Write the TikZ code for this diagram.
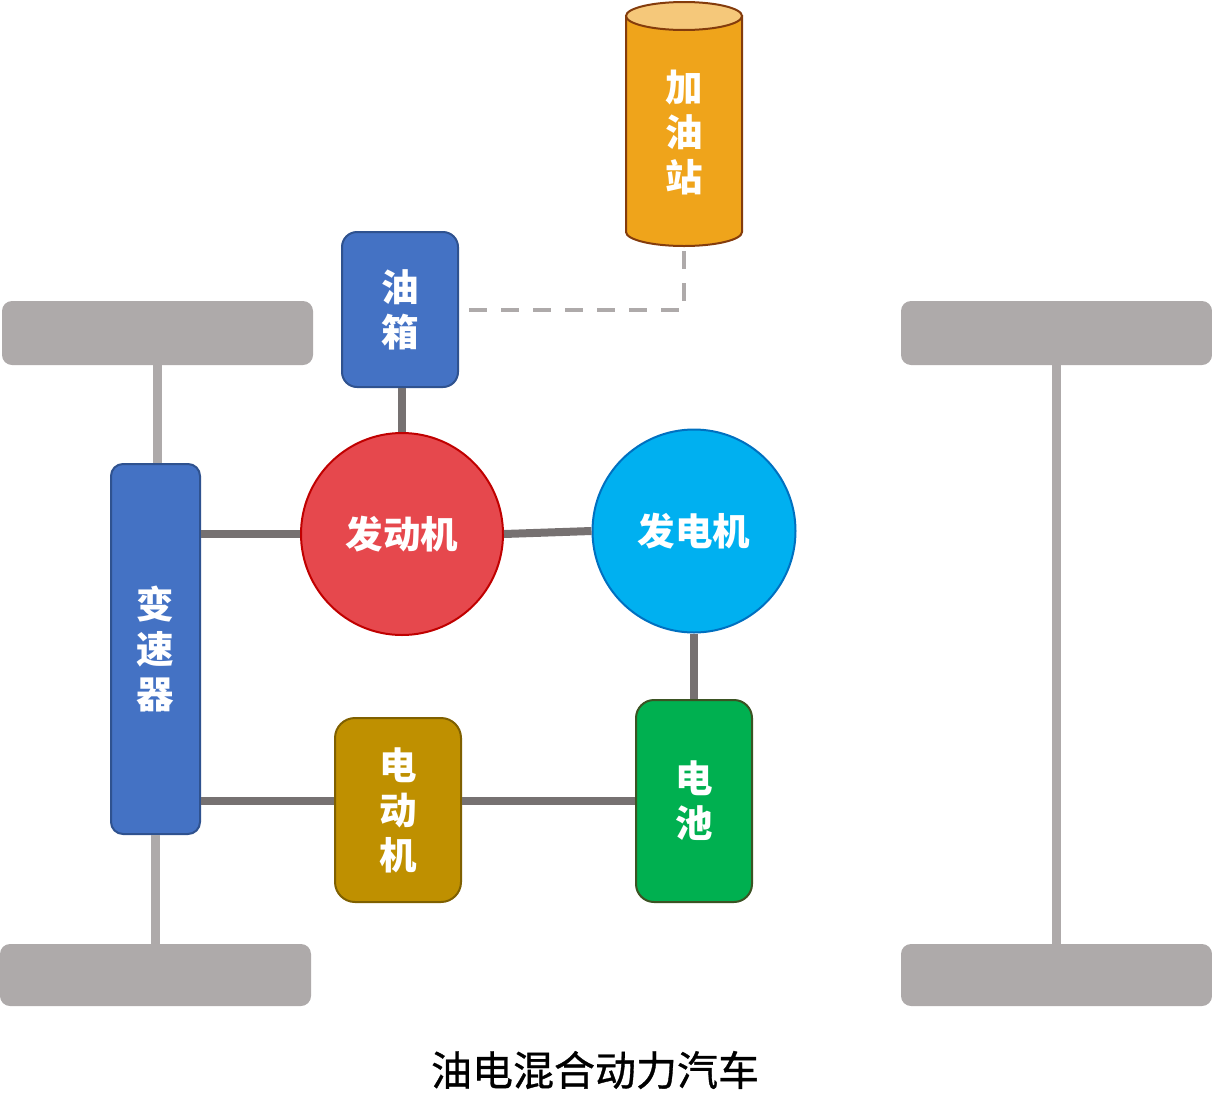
\documentclass[tikz,border=0pt]{standalone}
\usepackage{fontspec}
\newfontfamily\cjk{Noto Sans CJK SC}
\newfontfamily\cjktitle[FakeBold=0.8]{Noto Sans CJK SC}
\definecolor{wheelgray}{HTML}{AEAAAA}
\definecolor{linkgray}{HTML}{767171}
\definecolor{bluefill}{HTML}{4472C4}
\definecolor{blueedge}{HTML}{2F528F}
\definecolor{redfill}{HTML}{E6484D}
\definecolor{rededge}{HTML}{C00000}
\definecolor{cyanfill}{HTML}{00B0F0}
\definecolor{cyanedge}{HTML}{0070C0}
\definecolor{goldfill}{HTML}{BF9000}
\definecolor{goldedge}{HTML}{7F6000}
\definecolor{greenfill}{HTML}{00B050}
\definecolor{greenedge}{HTML}{3B5323}
\definecolor{orangefill}{HTML}{EFA41B}
\definecolor{orangetop}{HTML}{F5C87A}
\definecolor{orangeedge}{HTML}{843C0C}
\tikzset{
  wheel/.style={fill=wheelgray, rounded corners=10pt, minimum width=311pt, minimum height=64pt, inner sep=0pt},
  partbox/.style={line width=2pt, inner sep=0pt, align=center, text=white,
     font=\cjk\bfseries\fontsize{37.5}{45}\selectfont},
  partcircle/.style={partbox, circle},
  link/.style={draw=linkgray, line width=8pt},
  axle/.style={draw=wheelgray, line width=9pt},
  fuel/.style={draw=wheelgray, line width=4pt, dash pattern=on 18pt off 14pt},
}
\begin{document}
\begin{tikzpicture}[x=1pt,y=-1pt]
\useasboundingbox (0,0) rectangle (1212,1119);
% wheels
\node[wheel] (wTL) at (157.5,333) {};
\node[wheel] (wTR) at (1056.5,333) {};
\node[wheel, minimum height=62pt] (wBL) at (155.5,975) {};
\node[wheel, minimum height=62pt] (wBR) at (1056.5,975) {};
% fuel station cylinder
\path[fill=orangefill, draw=orangeedge, line width=2pt]
  (626,16) -- (626,232) arc[start angle=180, end angle=0, x radius=58, y radius=14] -- (742,16) -- cycle;
\path[fill=orangetop, draw=orangeedge, line width=2pt] (684,16) ellipse [x radius=58, y radius=14];
\node[partbox, draw=none] (station) at (684,133) {加\\油\\站};
\coordinate (stationS) at (684,246);
% parts
\node[partbox, fill=bluefill, draw=blueedge, rounded corners=15pt, minimum width=116pt, minimum height=155pt] (tank) at (400,309.5) {油\\箱};
\node[partbox, fill=bluefill, draw=blueedge, rounded corners=12pt, minimum width=89pt, minimum height=370pt] (trans) at (155.5,649) {变\\速\\器};
\node[partcircle, fill=redfill, draw=rededge, minimum size=202pt] (engine) at (402,534) {发动机};
\node[partcircle, fill=cyanfill, draw=cyanedge, minimum size=203pt] (gen) at (694,531) {发电机};
\node[partbox, fill=goldfill, draw=goldedge, rounded corners=20pt, minimum width=126pt, minimum height=184pt] (motor) at (398,810) {电\\动\\机};
\node[partbox, fill=greenfill, draw=greenedge, rounded corners=18pt, minimum width=116pt, minimum height=202pt] (bat) at (694,801) {电\\池};
% axles
\draw[axle] (wTL.south) -- (wTL.south |- trans.north);
\draw[axle] (wBL.north -| trans.south) -- (trans.south);
\draw[axle] (wTR.south) -- (wBR.north);
% links
\draw[link] (engine.north) -- (engine.north |- tank.south);
\draw[link] (trans.east |- engine.west) -- (engine.west);
\draw[link] (engine.east) -- (gen.west);
\draw[link] (gen.south) -- (bat.north);
\draw[link] (trans.east |- bat.west) -- (motor.west |- bat.west);
\draw[link] (motor.east |- bat.west) -- (bat.west);
% fuel line
\draw[fuel] ([xshift=10pt]tank.east) -- (tank.east -| stationS) -- (stationS);
% title
\node[font=\cjktitle\fontsize{41}{48}\selectfont] (title) at (595,1070) {油电混合动力汽车};
\end{tikzpicture}
\end{document}
